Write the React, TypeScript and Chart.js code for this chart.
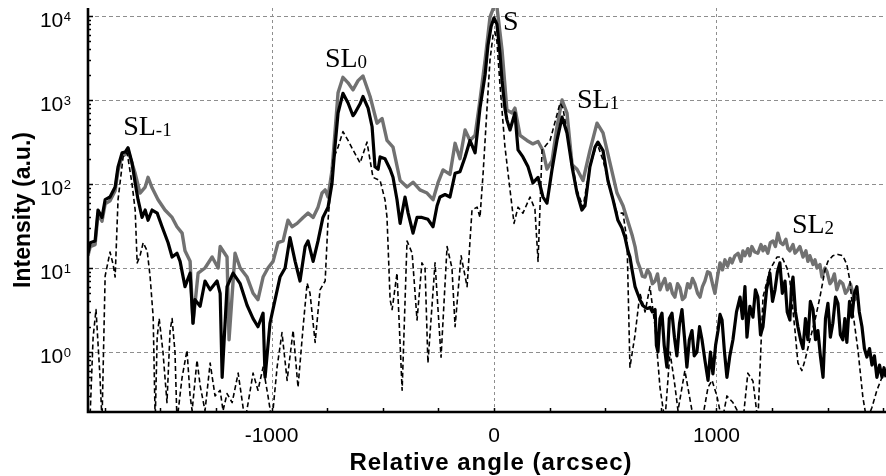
import React, { useEffect, useRef } from "react";
import { Chart, registerables } from "chart.js";

Chart.register(...registerables);

// ---- axis ranges / ticks ----
const X_MIN = -1825;
const X_MAX = 1762;
const Y_MIN = 0.1931;
const Y_MAX = 12445;
const xTickValues = [-1000, 0, 1000];
const xTickLabels = ["-1000", "0", "1000"];
const xMinorTicks = [-1750, -1500, -1250, -1000, -750, -500, -250, 0, 250, 500, 750, 1000, 1250, 1500, 1750];
const yTickValues = [1, 10, 100, 1000, 10000];
const yTickExponents = ["0", "1", "2", "3", "4"];
const xTitle = "Relative angle (arcsec)";
const yTitle = "Intensity (a.u.)";

// ---- peak annotations ----
const peakLabels = ["SL", "SL", "S", "SL", "SL"];
const peakSubs = ["-1", "0", "", "1", "2"];
const peakAngles = [-1667, -760, 40, 373, 1339];
const peakIntensities = [383, 2472, 6813, 803, 26.1];

// ---- gray thick curve ----
const grayAngle = [
  -1825, -1815, -1793, -1780, -1762, -1748, -1726, -1703, -1690, -1672, -1658, -1645, -1627, -1613, -1591, -1568,
  -1555, -1537, -1510, -1479, -1447, -1425, -1402, -1389, -1366, -1353, -1330, -1299, -1267, -1240, -1231, -1200,
  -1191, -1164, -1141, -1110, -1083, -1061, -1038, -1016, -993, -971, -948, -926, -908, -885, -858, -836,
  -813, -791, -773, -759, -746, -728, -715, -701, -679, -656, -634, -611, -589, -557, -526, -503,
  -481, -454, -422, -391, -364, -333, -301, -274, -252, -229, -198, -175, -153, -130, -108, -85,
  -63, -40, -18, 0, 13, 36, 58, 81, 94, 117, 148, 175, 198, 220, 238, 261,
  283, 306, 328, 351, 373, 400, 431, 463, 490, 521, 553, 580,
  611, 622, 634, 645, 656, 667, 679, 690, 701, 712, 724, 735, 746, 757, 768, 779,
  791, 802, 813, 825, 836, 847, 858, 870, 881, 892, 903, 915, 926, 937, 948, 960,
  971, 982, 993, 1005, 1016, 1027, 1038, 1050, 1061, 1070, 1083, 1097, 1110, 1119, 1128, 1141,
  1150, 1159, 1172, 1186, 1200, 1209, 1218, 1231, 1242, 1254, 1265, 1276, 1288, 1299, 1312, 1321,
  1330, 1344, 1353, 1362, 1375, 1389, 1402, 1411, 1420, 1434, 1443, 1452, 1465, 1474, 1488, 1497,
  1510, 1519, 1530, 1541, 1555, 1568, 1580, 1591, 1602, 1613, 1622, 1631,
];
const grayIntensity = [
  14, 18, 19, 44, 36, 58, 63, 83, 145, 215, 225, 250, 175, 134, 78, 92,
  120, 90, 65, 49, 40, 31, 26, 16, 12, 2.2, 8.7, 10, 13.5, 10, 18, 13.5,
  1.4, 15, 10, 7.8, 5, 4.2, 7.8, 10, 12, 20, 21, 37, 31, 34, 40, 45,
  40, 53, 78, 85, 70, 147, 405, 1220, 1860, 1600, 1320, 1700, 1930, 1100, 530, 600,
  330, 275, 110, 92, 105, 85, 78, 65, 103, 147, 130, 305, 200, 440, 330, 380,
  1000, 3000, 9700, 13000, 13000, 3950, 760, 700, 800, 380, 330, 300, 320, 250, 150, 190,
  480, 1000, 700, 170, 150, 110, 250, 530, 405, 180, 78, 55,
  30, 24, 18, 12, 10, 8, 7.8, 9.5, 8.5, 6.5, 7, 8.5, 5.5, 6.5, 7.5, 5.5,
  6.5, 5, 4.5, 6.5, 5.8, 4.2, 4.5, 6.5, 5.8, 7.5, 6.5, 5, 4.5, 6, 7, 9,
  8.7, 6.5, 5, 8, 11.5, 9.5, 12.5, 10.5, 13, 11.5, 14, 15, 12, 16, 14, 17,
  14, 18, 15.5, 15, 19, 16, 18, 15, 20, 21, 18, 26, 20, 19, 22, 17,
  16, 19, 15, 16, 18, 13.5, 16, 12, 14, 11, 12.5, 10, 11, 7.8, 10, 9,
  6.5, 7, 8.5, 5.5, 7, 6.5, 5, 5.5, 6.5, 5, 4.2, 4.5,
];

// ---- black thick curve ----
const blackAngle = [
  -1825, -1815, -1793, -1780, -1762, -1748, -1726, -1703, -1690, -1672, -1658, -1645, -1627, -1613, -1600, -1582,
  -1568, -1555, -1537, -1514, -1492, -1465, -1447, -1425, -1411, -1389, -1366, -1353, -1344, -1321, -1299, -1276,
  -1245, -1231, -1222, -1200, -1173, -1141, -1110, -1083, -1061, -1038, -1029, -1007, -984, -962, -939, -917,
  -894, -872, -849, -836, -813, -791, -769, -746, -728, -715, -701, -679, -656, -634, -625, -602,
  -589, -566, -548, -535, -521, -512, -490, -467, -454, -436, -422, -400, -386, -364, -346, -324,
  -297, -274, -256, -243, -220, -198, -175, -153, -130, -108, -85, -63, -40, -27, -13, 0,
  13, 27, 36, 49, 58, 72, 94, 108, 130, 153, 175, 198, 220, 238, 261, 283,
  306, 328, 351, 373, 395, 409, 431, 454, 467, 490, 512, 535, 557, 575, 589,
  602, 611, 622, 634, 645, 656, 668, 679, 690, 701, 712, 724, 730, 737, 746, 755,
  765, 777, 788, 800, 811, 822, 834, 845, 856, 867, 878, 890, 900, 912, 924, 935,
  948, 962, 973, 984, 996, 1007, 1016, 1025, 1036, 1047, 1060, 1074, 1090, 1106, 1117, 1128,
  1137, 1150, 1164, 1175, 1186, 1198, 1209, 1225, 1240, 1252, 1263, 1274, 1285, 1296, 1308, 1318,
  1330, 1337, 1344, 1355, 1366, 1378, 1389, 1400, 1411, 1422, 1434, 1445, 1456, 1467, 1479, 1490,
  1501, 1512, 1523, 1535, 1546, 1557, 1568, 1577, 1586, 1598, 1609, 1620, 1631, 1642, 1654, 1665,
  1676, 1688, 1699, 1710, 1721, 1733, 1744, 1753, 1762,
];
const blackIntensity = [
  15, 20, 21, 49, 40, 65, 70, 92, 160, 235, 240, 270, 178, 103, 65, 40,
  49, 37, 49, 45, 31, 20, 13.5, 15, 12, 6, 8.7, 2.2, 4.2, 3.5, 7, 5.5,
  7, 5, 0.5, 6, 8.7, 6.5, 3.6, 2.5, 2, 2.9, 0.5, 2.2, 4.2, 7.8, 10, 23,
  12, 7, 18, 21, 12, 21, 40, 53, 103, 275, 700, 1200, 920, 650, 700, 900,
  1100, 800, 480, 160, 150, 210, 200, 150, 120, 65, 34, 70, 45, 26, 40, 40,
  38, 31, 55, 70, 75, 70, 134, 140, 210, 330, 235, 800, 2000, 4500, 7500, 9500,
  8000, 3500, 1700, 800, 580, 440, 700, 255, 210, 160, 103, 120, 70, 59, 150, 330,
  625, 405, 160, 78, 49, 55, 160, 275, 315, 250, 110, 65, 37, 30, 23,
  16, 13.5, 9, 6, 5, 4.2, 3.6, 3.4, 3.3, 3.4, 3.0, 3.2, 1.2, 1.0, 2.5, 2.9,
  1.2, 0.66, 2.5, 2.9, 1.5, 0.9, 2.2, 3.2, 1.5, 0.66, 1.4, 1.8, 0.9, 1.0, 2.0, 1.4,
  0.8, 0.46, 1.0, 0.55, 1.2, 1.8, 2.8, 2.4, 1.0, 0.5, 0.9, 1.4, 3, 4.5, 2.5, 6,
  1.5, 3.5, 2.6, 5.5, 4.5, 1.6, 2, 5.5, 8.7, 4, 5.5, 9, 11.5, 5, 7, 3,
  2.4, 6, 7.8, 3, 2, 1.4, 1.1, 2.5, 1.4, 4, 3.2, 1.4, 1.8, 0.9, 0.5, 2.5,
  3.8, 1.5, 2.2, 4.5, 3.8, 1.6, 1.4, 2.5, 1.3, 4, 2.6, 5, 6, 3, 2, 1.1,
  0.87, 1.1, 0.7, 0.9, 0.5, 0.7, 0.5, 0.65, 0.5,
];

// ---- dashed thin curve ----
const dashedAngle = [
  -1825, -1815, -1802, -1789, -1771, -1762, -1748, -1726, -1712, -1703, -1690, -1667, -1649, -1627, -1613, -1604,
  -1591, -1577, -1559, -1546, -1532, -1523, -1514, -1505, -1488, -1470, -1456, -1447, -1434, -1425, -1402, -1380,
  -1366, -1357, -1335, -1321, -1299, -1276, -1254, -1231, -1218, -1200, -1177, -1150, -1119, -1083, -1061, -1038,
  -1016, -998, -975, -953, -930, -903, -881, -858, -840, -827, -804, -782, -759, -746, -724, -701,
  -679, -656, -634, -602, -571, -544, -512, -490, -481, -467, -458, -436, -413, -391, -368, -346,
  -324, -310, -297, -265, -238, -211, -189, -175, -148, -121, -99, -76, -63, -49, -31, -18,
  -4, 4, 13, 27, 49, 72, 90, 108, 130, 162, 184, 198, 216, 252, 297, 310,
  342, 373, 400, 431, 463, 490, 521, 553, 580, 598, 611, 634, 656, 679, 701, 724,
  746, 768, 791, 813, 827, 858, 890, 935, 962, 980, 1002, 1025, 1047, 1074, 1119, 1141,
  1164, 1186, 1209, 1240, 1272, 1294, 1317, 1330, 1353, 1366, 1384, 1398, 1420, 1443, 1465, 1488,
  1501, 1523, 1546, 1568, 1586, 1600, 1613, 1636, 1658, 1676, 1699, 1721, 1744, 1762,
];
const dashedIntensity = [
  0.15, 0.19, 1.5, 3.2, 0.5, 0.15, 8, 15.5, 11, 7.8, 65, 210, 235, 100, 49, 11.5,
  14, 20, 16, 8, 2.6, 0.15, 1.5, 2.5, 1.0, 0.25, 1.8, 2.5, 1, 0.15, 0.5, 1.05,
  0.3, 0.2, 0.8, 0.4, 0.2, 0.74, 0.3, 0.35, 0.2, 0.32, 0.25, 0.56, 0.15, 0.56, 0.35, 0.66,
  0.3, 0.15, 0.66, 1.7, 0.46, 1.8, 0.38, 2, 6.6, 5, 1.3, 5.5, 7, 37, 192, 275,
  420, 330, 255, 178, 315, 120, 110, 65, 40, 4.2, 3.2, 8.7, 0.35, 21, 15, 2.4,
  11.5, 10, 0.74, 11.5, 0.87, 18, 10, 2, 14, 6, 49, 53, 40, 134, 830, 3000,
  6000, 6500, 5000, 1500, 280, 85, 34, 53, 45, 70, 50, 12, 255, 330, 920, 800,
  250, 85, 53, 160, 305, 192, 92, 45, 45, 21, 0.66, 1.6, 5, 3, 6, 2,
  0.38, 0.15, 1.0, 0.4, 0.2, 0.6, 0.2, 0.15, 0.38, 0.46, 0.3, 0.15, 0.3, 0.25, 0.15, 0.56,
  0.45, 0.15, 4.5, 9.5, 13.5, 13.5, 10, 7, 1.8, 0.74, 0.6, 0.8, 1.4, 2.4, 4.5, 9.5,
  12, 14, 14.5, 14, 11, 7, 3, 1.05, 0.29, 0.15, 0.22, 0.35, 0.5, 0.6,
];

const toPoints = (xs: number[], ys: number[]) => xs.map((x, i) => ({ x, y: ys[i] }));

const SANS = '"Liberation Sans", Arial, Helvetica, sans-serif';
const SERIF = '"Liberation Serif", "Times New Roman", serif';

const decorPlugin = {
  id: "decor",
  beforeDatasetsDraw(chart: any) {
    const { ctx, chartArea: a, scales } = chart;
    const x = scales.x;
    const y = scales.y;
    ctx.save();
    ctx.strokeStyle = "#8e8e8e";
    ctx.lineWidth = 1;
    ctx.setLineDash([4, 3]);
    yTickValues.forEach((v) => {
      const py = Math.round(y.getPixelForValue(v)) + 0.5;
      ctx.beginPath();
      ctx.moveTo(a.left, py);
      ctx.lineTo(a.right, py);
      ctx.stroke();
    });
    ctx.setLineDash([3, 3]);
    xTickValues.forEach((v) => {
      const px = Math.round(x.getPixelForValue(v)) + 0.5;
      ctx.beginPath();
      ctx.moveTo(px, a.top);
      ctx.lineTo(px, a.bottom);
      ctx.stroke();
    });
    ctx.restore();
  },
  afterDatasetsDraw(chart: any) {
    const { ctx, chartArea: a, scales } = chart;
    const x = scales.x;
    const y = scales.y;
    ctx.save();
    ctx.setLineDash([]);
    ctx.strokeStyle = "#000";
    // ticks (inside)
    ctx.lineWidth = 1.5;
    xMinorTicks.forEach((v) => {
      const px = Math.round(x.getPixelForValue(v)) + 0.5;
      ctx.beginPath();
      ctx.moveTo(px, a.bottom);
      ctx.lineTo(px, a.bottom - 4);
      ctx.stroke();
    });
    for (let e = -1; e <= 4; e++) {
      for (let m = 1; m <= 9; m++) {
        const v = m * Math.pow(10, e);
        if (v < Y_MIN || v > Y_MAX) continue;
        const py = Math.round(y.getPixelForValue(v)) + 0.5;
        ctx.beginPath();
        ctx.moveTo(a.left, py);
        ctx.lineTo(a.left + (m === 1 ? 5 : 3), py);
        ctx.stroke();
      }
    }
    // axis lines
    ctx.lineWidth = 2.6;
    ctx.beginPath();
    ctx.moveTo(a.left, a.top);
    ctx.lineTo(a.left, a.bottom);
    ctx.lineTo(a.right, a.bottom);
    ctx.stroke();

    ctx.fillStyle = "#000";
    // y tick labels 10^n
    yTickValues.forEach((v, i) => {
      const py = y.getPixelForValue(v);
      ctx.font = `13px ${SANS}`;
      const w2 = ctx.measureText(yTickExponents[i]).width;
      const right = 71;
      ctx.textAlign = "left";
      ctx.textBaseline = "alphabetic";
      ctx.fillText(yTickExponents[i], right - w2, py + 4.7);
      ctx.font = `21px ${SANS}`;
      ctx.textAlign = "right";
      ctx.fillText("10", right - w2 - 0.5, py + 11);
    });
    // x tick labels
    ctx.font = `21px ${SANS}`;
    ctx.textAlign = "center";
    ctx.textBaseline = "alphabetic";
    xTickValues.forEach((v, i) => {
      ctx.fillText(xTickLabels[i], x.getPixelForValue(v), 442);
    });
    // axis titles
    ctx.font = `bold 24px ${SANS}`;
    try {
      (ctx as any).letterSpacing = "1px";
    } catch (e) {}
    ctx.textAlign = "center";
    ctx.fillText(xTitle, 491, 470);
    try {
      (ctx as any).letterSpacing = "0px";
    } catch (e) {}
    ctx.save();
    ctx.translate(30, 210);
    ctx.rotate(-Math.PI / 2);
    ctx.font = `bold 23px ${SANS}`;
    ctx.textAlign = "center";
    ctx.fillText(yTitle, 0, 0);
    ctx.restore();

    // peak annotations
    peakLabels.forEach((lab, i) => {
      const px = x.getPixelForValue(peakAngles[i]);
      const py = y.getPixelForValue(peakIntensities[i]);
      ctx.textAlign = "left";
      ctx.font = `28px ${SERIF}`;
      ctx.fillText(lab, px, py);
      const w = ctx.measureText(lab).width;
      if (peakSubs[i]) {
        ctx.font = `19px ${SERIF}`;
        ctx.fillText(peakSubs[i], px + w, py + 1);
      }
    });
    ctx.restore();
  },
};

export default function App() {
  const ref = useRef<HTMLCanvasElement | null>(null);
  useEffect(() => {
    if (!ref.current) return;
    const chart = new Chart(ref.current, {
      type: "scatter",
      data: {
        datasets: [
          {
            label: "dashed",
            data: toPoints(dashedAngle, dashedIntensity),
            showLine: true,
            borderColor: "#000",
            borderWidth: 1.6,
            borderDash: [5, 3],
            pointRadius: 0,
            tension: 0,
            borderJoinStyle: "round",
          },
          {
            label: "black",
            data: toPoints(blackAngle, blackIntensity),
            showLine: true,
            borderColor: "#000",
            borderWidth: 3.2,
            pointRadius: 0,
            tension: 0,
            borderJoinStyle: "round",
          },
          {
            label: "gray",
            data: toPoints(grayAngle, grayIntensity),
            showLine: true,
            borderColor: "#717171",
            borderWidth: 3.4,
            pointRadius: 0,
            tension: 0,
            borderJoinStyle: "round",
          },
        ],
      },
      options: {
        responsive: false,
        animation: false,
        events: [],
        layout: { padding: { left: 88, right: 0, top: 8, bottom: 64 } },
        plugins: { legend: { display: false }, tooltip: { enabled: false } },
        scales: {
          x: { type: "linear", min: X_MIN, max: X_MAX, display: false },
          y: { type: "logarithmic", min: Y_MIN, max: Y_MAX, display: false },
        },
      },
      plugins: [decorPlugin],
    } as any);
    return () => chart.destroy();
  }, []);
  return (
    <div style={{ position: "fixed", left: 0, top: 0, width: 886, height: 476, background: "#fff" }}>
      <canvas ref={ref} width={886} height={476} style={{ display: "block" }} />
    </div>
  );
}
